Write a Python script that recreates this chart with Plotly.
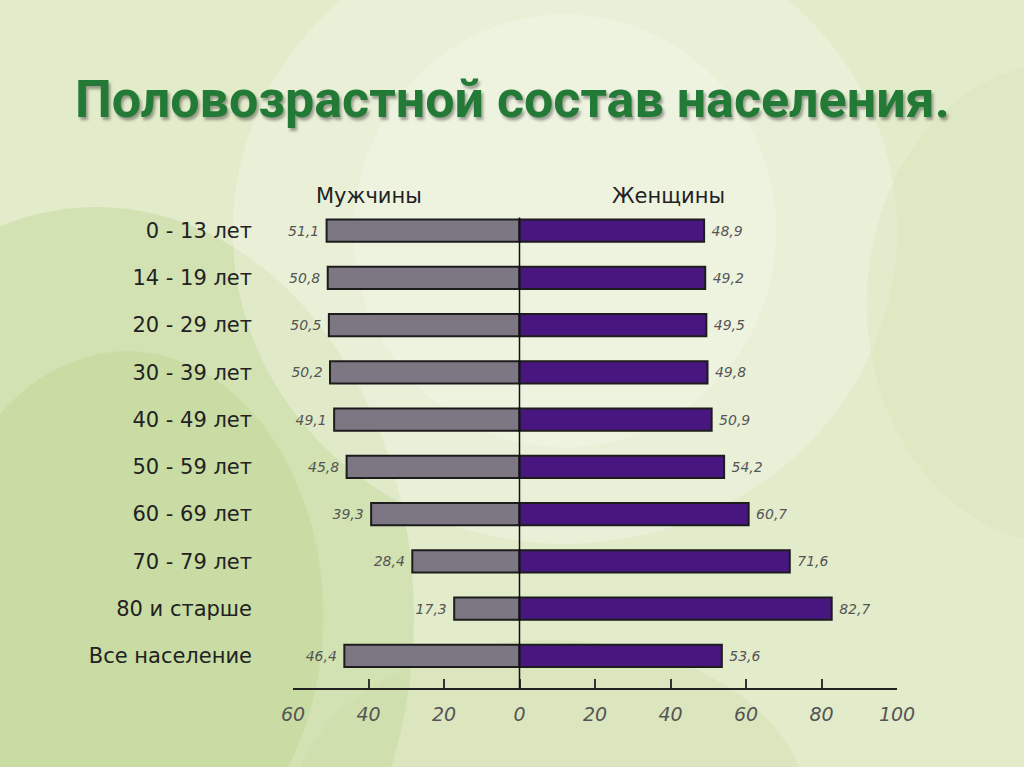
import plotly.graph_objects as go

# age groups, top to bottom
groups = ["0 - 13 лет", "14 - 19 лет", "20 - 29 лет", "30 - 39 лет", "40 - 49 лет",
          "50 - 59 лет", "60 - 69 лет", "70 - 79 лет", "80 и старше", "Все население"]
men = [51.1, 50.8, 50.5, 50.2, 49.1, 45.8, 39.3, 28.4, 17.3, 46.4]
women = [48.9, 49.2, 49.5, 49.8, 50.9, 54.2, 60.7, 71.6, 82.7, 53.6]
tick_vals = [-60, -40, -20, 0, 20, 40, 60, 80, 100]
tick_text = ["60", "40", "20", "0", "20", "40", "60", "80", "100"]

label_font = dict(family="DejaVu Sans", size=14, color="#555555", style="italic")
text_font = dict(family="DejaVu Sans", size=21, color="#222222")

fig = go.Figure()

# men to the left (negative side)
fig.add_trace(go.Bar(
    y=groups, x=[-v for v in men], orientation="h",
    marker=dict(color="#7d7784", line=dict(color="#1c1c1c", width=2)),
    width=0.47,
    text=[f"{v:.1f} ".replace(".", ",") for v in men],
    textposition="outside", textfont=label_font,
    cliponaxis=False, hoverinfo="skip",
))
# women to the right
fig.add_trace(go.Bar(
    y=groups, x=women, orientation="h",
    marker=dict(color="#48167f", line=dict(color="#1c1c1c", width=2)),
    width=0.47,
    text=[f" {v:.1f}".replace(".", ",") for v in women],
    textposition="outside", textfont=label_font,
    cliponaxis=False, hoverinfo="skip",
))

# soft green background blobs
bg_shapes = [
    dict(type="circle", xref="paper", yref="paper", x0=-0.85, x1=0.2, y0=-0.7, y1=1.0,
         fillcolor="#bcd48e", opacity=0.4, line_width=0, layer="below"),
    dict(type="circle", xref="paper", yref="paper", x0=-0.6, x1=0.05, y0=-0.4, y1=0.7,
         fillcolor="#b3cd80", opacity=0.3, line_width=0, layer="below"),
    dict(type="circle", xref="paper", yref="paper", x0=-0.1, x1=1.0, y0=0.3, y1=1.6,
         fillcolor="#f4f7ea", opacity=0.4, line_width=0, layer="below"),
    dict(type="circle", xref="paper", yref="paper", x0=0.1, x1=0.8, y0=0.5, y1=1.4,
         fillcolor="#f8faf1", opacity=0.35, line_width=0, layer="below"),
    dict(type="circle", xref="paper", yref="paper", x0=0.95, x1=1.6, y0=0.3, y1=1.3,
         fillcolor="#d4e3b4", opacity=0.3, line_width=0, layer="below"),
    dict(type="circle", xref="paper", yref="paper", x0=0.0, x1=0.85, y0=-0.6, y1=0.1,
         fillcolor="#cadca4", opacity=0.3, line_width=0, layer="below"),
]

# vertical zero line
zero_line = dict(type="line", xref="x", yref="y", x0=0, x1=0, y0=-0.28, y1=9.68,
                 line=dict(color="#111111", width=1.5), layer="above")

fig.update_layout(
    width=1024, height=767,
    margin=dict(l=293, r=127, t=207, b=79),
    paper_bgcolor="#e2ebca",
    plot_bgcolor="rgba(0,0,0,0)",
    barmode="overlay",
    showlegend=False,
    shapes=bg_shapes + [zero_line],
    xaxis=dict(
        range=[-60, 100], tickvals=tick_vals, ticktext=tick_text,
        showgrid=False, zeroline=False,
        showline=True, linecolor="#222222", linewidth=1.5,
        ticks="inside", ticklen=9, tickwidth=2, tickcolor="#333333",
        ticklabelstandoff=8,
        tickfont=dict(family="DejaVu Sans", size=19, color="#555555", style="italic"),
        fixedrange=True,
    ),
    yaxis=dict(
        categoryorder="array", categoryarray=groups,
        range=[9.68, -0.5],
        showgrid=False, zeroline=False, showline=False,
        ticks="", ticklabelstandoff=40,
        tickfont=text_font,
        fixedrange=True,
    ),
    annotations=[
        dict(text="Половозрастной состав населения.", xref="paper", yref="paper",
             x=0.5, y=(688 - 100) / 481, xanchor="center", yanchor="middle",
             showarrow=False, xshift=-83,
             font=dict(family="Roboto", size=52, color="#237a36", weight="bold",
                       shadow="2px 3px 3px rgba(0,0,0,0.35)")),
        dict(text="Мужчины", xref="x", yref="paper", x=-40, y=(688 - 196) / 481,
             yanchor="middle", showarrow=False, font=text_font),
        dict(text="Женщины", xref="x", yref="paper", x=39.5, y=(688 - 196) / 481,
             yanchor="middle", showarrow=False, font=text_font),
    ],
)

fig.write_html("out.html", config={"displayModeBar": False},
               post_script="document.body.style.margin='0';")
